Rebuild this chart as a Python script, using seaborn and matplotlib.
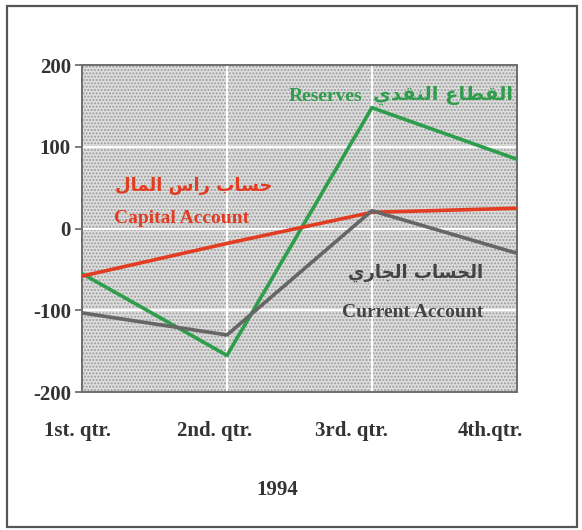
import pandas as pd
import matplotlib
matplotlib.use('Agg')
import matplotlib.pyplot as plt
from matplotlib.patches import Rectangle
import seaborn as sns


quarters = ['1st. qtr.', '2nd. qtr.', '3rd. qtr.', '4th.qtr.']
reserves = [-55, -155, 148, 85]
capital_account = [-58, -18, 20, 25]
current_account = [-103, -130, 22, -30]
y_ticks = [-200, -100, 0, 100, 200]
year = '1994'

# isolated, final, initial, medial presentation forms
AR_FORMS = {
    'ا': ('\uFE8D', '\uFE8E', None, None),
    'ب': ('\uFE8F', '\uFE90', '\uFE91', '\uFE92'),
    'ج': ('\uFE9D', '\uFE9E', '\uFE9F', '\uFEA0'),
    'ح': ('\uFEA1', '\uFEA2', '\uFEA3', '\uFEA4'),
    'د': ('\uFEA9', '\uFEAA', None, None),
    'ر': ('\uFEAD', '\uFEAE', None, None),
    'س': ('\uFEB1', '\uFEB2', '\uFEB3', '\uFEB4'),
    'ط': ('\uFEC1', '\uFEC2', '\uFEC3', '\uFEC4'),
    'ع': ('\uFEC9', '\uFECA', '\uFECB', '\uFECC'),
    'ق': ('\uFED5', '\uFED6', '\uFED7', '\uFED8'),
    'ل': ('\uFEDD', '\uFEDE', '\uFEDF', '\uFEE0'),
    'م': ('\uFEE1', '\uFEE2', '\uFEE3', '\uFEE4'),
    'ن': ('\uFEE5', '\uFEE6', '\uFEE7', '\uFEE8'),
    'ي': ('\uFEF1', '\uFEF2', '\uFEF3', '\uFEF4'),
}


def shape_arabic(text):
    """
        Joins the letters and reverses them, since matplotlib draws left to right.
    """
    out = []
    for i, ch in enumerate(text):
        if ch not in AR_FORMS:
            out.append(ch)
            continue
        iso, fin, ini, med = AR_FORMS[ch]
        prev = text[i - 1] if i > 0 else ''
        nxt = text[i + 1] if i + 1 < len(text) else ''
        join_prev = prev in AR_FORMS and AR_FORMS[prev][2] is not None
        join_next = ini is not None and nxt in AR_FORMS
        if join_prev and join_next:
            out.append(med)
        elif join_prev:
            out.append(fin)
        elif join_next:
            out.append(ini)
        else:
            out.append(iso)
    return ''.join(reversed(out))


colors = {'Reserves': '#2f9e4c', 'Capital Account': '#e23d22', 'Current Account': '#666666'}

data = pd.DataFrame({
    'quarter': list(range(len(quarters))) * 3,
    'value': reserves + capital_account + current_account,
    'series': ['Reserves'] * 4 + ['Capital Account'] * 4 + ['Current Account'] * 4,
})

sns.set_style('white')
serif = ['Liberation Serif', 'DejaVu Serif']
arabic = ['DejaVu Sans']
dark = '#333333'

fig = plt.figure(figsize=(5.82, 5.30), dpi=100)
ax = fig.add_axes([0.141, 0.260, 0.747, 0.617])

ax.add_patch(Rectangle((0, 0), 1, 1, transform=ax.transAxes, facecolor='#dedede',
                       edgecolor='#9c9c9c', hatch='.....', lw=0, zorder=0.1))
sns.lineplot(data=data, x='quarter', y='value', hue='series', palette=colors,
             linewidth=2.6, legend=False, ax=ax, zorder=3)

ax.set_xlim(0, 3)
ax.set_ylim(-200, 200)
ax.set_yticks(y_ticks)
ax.set_yticklabels([str(t) for t in y_ticks], fontfamily=serif, fontweight='bold',
                   fontsize=15, color=dark)
ax.set_xticks(range(len(quarters)))
ax.set_xticklabels([])
ax.grid(True, color='white', linewidth=1.4)
ax.set_axisbelow(True)
ax.tick_params(axis='y', left=True, length=5, width=1.2, color='#666666', pad=3)
ax.tick_params(axis='x', bottom=False)
for s in ax.spines.values():
    s.set_color('#6e6e6e')
    s.set_linewidth(1.4)
ax.set_xlabel('')
ax.set_ylabel('')

# quarter labels, slightly left of their ticks as in the print
shifts = [-3, -9, -15, -19]
for i, (q, dx) in enumerate(zip(quarters, shifts)):
    ax.annotate(q, xy=(i, 0), xycoords=ax.get_xaxis_transform(), xytext=(dx, -28),
                textcoords='offset points', ha='center', va='center',
                fontfamily=serif, fontweight='bold', fontsize=15, color=dark)

fig.text(0.476, 0.075, year, ha='center', va='center', fontfamily=serif,
         fontweight='bold', fontsize=15, color=dark)

# series labels
ax.text(1.68, 162, 'Reserves', ha='center', va='center', fontfamily=serif,
        fontweight='bold', fontsize=14, color=colors['Reserves'])
ax.text(2.49, 163, shape_arabic('القطاع النقدي'), ha='center', va='center',
        fontfamily=arabic, fontweight='bold', fontsize=14, color=colors['Reserves'])
ax.text(0.77, 52, shape_arabic('حساب راس المال'), ha='center', va='center',
        fontfamily=arabic, fontweight='bold', fontsize=13, color=colors['Capital Account'])
ax.text(0.69, 12, 'Capital Account', ha='center', va='center', fontfamily=serif,
        fontweight='bold', fontsize=14, color=colors['Capital Account'])
ax.text(2.30, -54, shape_arabic('الحساب الجاري'), ha='center', va='center',
        fontfamily=arabic, fontweight='bold', fontsize=13, color='#444444')
ax.text(2.28, -102, 'Current Account', ha='center', va='center', fontfamily=serif,
        fontweight='bold', fontsize=14, color='#444444')

# outer frame of the figure
fig.add_artist(Rectangle((0.012, 0.006), 0.979, 0.983, transform=fig.transFigure,
                         fill=False, edgecolor='#555555', linewidth=1.6))

fig.savefig('out.png', dpi=100)
